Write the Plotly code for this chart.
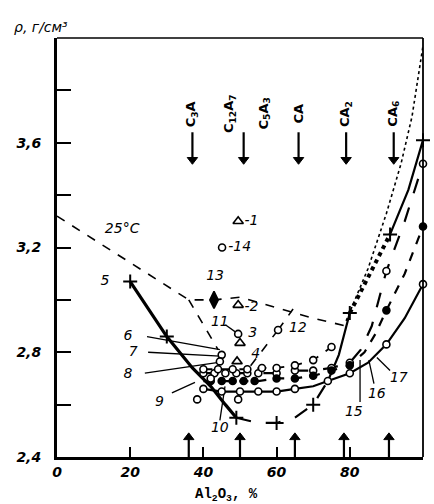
import plotly.graph_objects as go

# ---------------- data ----------------
# curve 5 (+ markers)
c5_solid1_x = [20, 30, 37, 42, 46, 49]
c5_solid1_y = [3.07, 2.86, 2.74, 2.67, 2.60, 2.55]
c5_dash_x = [49, 55, 60, 65, 70, 74]
c5_dash_y = [2.55, 2.53, 2.53, 2.55, 2.60, 2.69]
c5_solid2_x = [74, 77, 80]
c5_solid2_y = [2.69, 2.79, 2.95]
c5_dot_x = [80, 85, 91]
c5_dot_y = [2.95, 3.09, 3.25]
c5_solid3_x = [91, 96, 100]
c5_solid3_y = [3.25, 3.42, 3.61]
c5_plus_x = [20, 30, 49, 60, 70, 80, 91, 100]
c5_plus_y = [3.07, 2.86, 2.55, 2.53, 2.60, 2.95, 3.25, 3.61]

# thin dotted curve
dot_x = [79, 85, 90, 94, 97, 100]
dot_y = [2.92, 3.12, 3.33, 3.52, 3.70, 3.97]

# 25 °C dashed line
t25_x = [0, 36, 43, 50, 60, 70, 79]
t25_y = [3.32, 3.00, 3.00, 3.01, 2.97, 2.93, 2.90]
t25b_x = [36, 44]
t25b_y = [3.00, 2.81]

# curve 15 (long dash, open circles)
c15_x = [40, 43, 46, 49, 52, 55, 60, 65, 70, 75, 80, 83, 86, 90, 95, 100]
c15_y = [2.72, 2.72, 2.72, 2.72, 2.72, 2.72, 2.72, 2.73, 2.73, 2.74, 2.76, 2.81, 2.90, 3.11, 3.30, 3.52]
c15_mx = [40, 43, 46, 49, 52, 55, 60, 65, 70, 75, 80, 90, 100]
c15_my = [2.72, 2.72, 2.72, 2.72, 2.72, 2.72, 2.72, 2.73, 2.73, 2.74, 2.76, 3.11, 3.52]

# curve 16 (dash, filled circles)
c16_x = [40, 43, 46, 49, 52, 55, 60, 65, 70, 75, 80, 84, 87, 90, 95, 100]
c16_y = [2.69, 2.69, 2.69, 2.69, 2.69, 2.69, 2.70, 2.70, 2.71, 2.73, 2.75, 2.80, 2.87, 2.96, 3.10, 3.28]
c16_mx = [42, 45, 48, 51, 54, 60, 65, 70, 75, 80, 90, 100]
c16_my = [2.69, 2.69, 2.69, 2.69, 2.69, 2.70, 2.70, 2.71, 2.73, 2.75, 2.96, 3.28]

# curve 17 (solid, open circles)
c17_x = [40, 45, 50, 55, 60, 65, 70, 74, 80, 85, 90, 95, 100]
c17_y = [2.66, 2.65, 2.65, 2.65, 2.65, 2.66, 2.67, 2.69, 2.72, 2.76, 2.83, 2.93, 3.06]
c17_mx = [40, 45, 50, 55, 60, 65, 74, 80, 90, 100]
c17_my = [2.66, 2.65, 2.65, 2.65, 2.65, 2.66, 2.69, 2.72, 2.83, 3.06]

# upper short-dash curve (open circles)
cu_x = [40, 44, 48, 52, 56, 60, 65, 70, 75]
cu_y = [2.735, 2.735, 2.735, 2.735, 2.74, 2.74, 2.75, 2.77, 2.82]

# single points
p1 = (49.5, 3.30)      # triangle 1
p14 = (45.1, 3.20)     # circle 14
p13 = (42.9, 3.00)     # diamond 13
p2 = (49.5, 2.98)      # triangle 2
p11 = (49.5, 2.87)     # circle 11
p3 = (50.0, 2.835)     # triangle 3
p4 = (49.2, 2.765)     # triangle 4
p12 = (60.4, 2.885)    # circle 12
extra_open_x = [38.3, 49.5, 45.0, 44.5, 42.0]
extra_open_y = [2.62, 2.62, 2.79, 2.765, 2.70]

# labels placed to the right of their point
rlabel_text = ["-1", "-14", "-2"]
rlabel_x = [51.2, 46.8, 51.2]
rlabel_y = [3.30, 3.20, 2.97]

# centred labels
label_text = ["13", "11", "3", "4", "12", "25°C", "5",
              "6", "7", "8", "9", "10", "15", "16", "17"]
label_x = [43.2, 44.5, 53.5, 54.3, 65.8, 17.8, 13.1,
           19.4, 20.8, 19.4, 28.0, 44.5, 81.1, 87.4, 93.4]
label_y = [3.09, 2.915, 2.87, 2.79, 2.89, 3.27, 3.07,
           2.86, 2.80, 2.715, 2.61, 2.51, 2.57, 2.64, 2.70]

# compounds
comp_labels = ["C<sub>3</sub>A", "C<sub>12</sub>A<sub>7</sub>", "C<sub>5</sub>A<sub>3</sub>",
               "CA", "CA<sub>2</sub>", "CA<sub>6</sub>"]
comp_label_x = [37, 47.3, 56.7, 66, 79, 92]
top_arrow_x = [37, 51, 66, 79, 92]
bottom_arrow_x = [36, 50, 65, 78.4, 90.7]

x_tickvals = [0, 20, 40, 60, 80, 100]
x_ticktext = ["0", "20", "40", "60", "80", "100"]
y_tickvals = [2.4, 2.8, 3.2, 3.6]
y_ticktext = ["2,4", "2,8", "3,2", "3,6"]
y_minor_vals = [2.6, 3.0, 3.4, 3.8]

# ---------------- figure ----------------
K = "black"
fig = go.Figure()


def line(x, y, width=2, dash="solid"):
    fig.add_trace(go.Scatter(x=x, y=y, mode="lines", cliponaxis=False,
                             line=dict(color=K, width=width, dash=dash),
                             hoverinfo="skip", showlegend=False))


def pts(x, y, symbol, size=8, lw=1.6, fill="white"):
    fig.add_trace(go.Scatter(x=x, y=y, mode="markers", cliponaxis=False,
                             marker=dict(symbol=symbol, size=size, color=fill,
                                         line=dict(color=K, width=lw)),
                             hoverinfo="skip", showlegend=False))


line(t25_x, t25_y, 1.6, "dash")
line(t25b_x, t25b_y, 1.6, "dash")
line([60.4, 64.5], [2.885, 2.965], 1.6, "dash")
line([60.4, 52.7], [2.885, 2.745], 1.6, "dash")
line(dot_x, dot_y, 1.6, "dot")
line(c5_solid1_x, c5_solid1_y, 3.2)
line(c5_dash_x, c5_dash_y, 2.2, "longdash")
line(c5_solid2_x, c5_solid2_y, 2.2)
line(c5_dot_x, c5_dot_y, 4, "dot")
line(c5_solid3_x, c5_solid3_y, 2.2)
line(c15_x, c15_y, 2.2, "longdash")
line(c16_x, c16_y, 2.2, "dash")
line(c17_x, c17_y, 2.2)
line(cu_x, cu_y, 1.8, "dash")

# leader lines
leaders = [((24.6, 2.86), (44.5, 2.81)), ((24.9, 2.80), (44.5, 2.785)),
           ((24.0, 2.72), (43.7, 2.76)), ((31.4, 2.645), (37.7, 2.685)),
           ((44.5, 2.54), (45.9, 2.67)), ((46.0, 2.905), (49.0, 2.875)),
           ((82.8, 2.61), (82.8, 2.77)), ((86.6, 2.68), (85.2, 2.77)),
           ((91.0, 2.73), (87.4, 2.78))]
for (x0, y0), (x1, y1) in leaders:
    line([x0, x1], [y0, y1], 1.3)

# arrows (shaft lines + triangle heads)
for x in top_arrow_x:
    line([x, x], [3.64, 3.54], 2.2)
for x in bottom_arrow_x:
    line([x, x], [2.40, 2.47], 2.2)

pts(c15_mx, c15_my, "circle", 7)
pts(c16_mx, c16_my, "circle", 7, fill=K)
pts(c17_mx, c17_my, "circle", 7)
pts(cu_x, cu_y, "circle", 7)
pts(extra_open_x, extra_open_y, "circle", 7)
pts(c5_plus_x, c5_plus_y, "cross-thin", 10, lw=2)
pts([p1[0], p2[0], p3[0], p4[0]], [p1[1], p2[1], p3[1], p4[1]], "triangle-up", 9)
pts([p14[0], p11[0], p12[0]], [p14[1], p11[1], p12[1]], "circle", 7)
pts([p13[0]], [p13[1]], "diamond-tall", 12, fill=K)
pts(top_arrow_x, [3.535] * len(top_arrow_x), "triangle-down", 9, lw=1, fill=K)
pts(bottom_arrow_x, [2.475] * len(bottom_arrow_x), "triangle-up", 9, lw=1, fill=K)

lab_font = dict(family="DejaVu Sans", size=14, color=K, style="italic", weight="normal")
fig.add_trace(go.Scatter(x=label_x, y=label_y, text=label_text, mode="text",
                         textposition="middle center", cliponaxis=False,
                         textfont=lab_font, hoverinfo="skip", showlegend=False))
fig.add_trace(go.Scatter(x=rlabel_x, y=rlabel_y, text=rlabel_text, mode="text",
                         textposition="middle right", cliponaxis=False,
                         textfont=lab_font, hoverinfo="skip", showlegend=False))

# compound labels
comp_font = dict(family="DejaVu Sans", size=13, color=K, weight="bold")
for t, x in zip(comp_labels, comp_label_x):
    fig.add_annotation(x=x, y=3.71, text=t, textangle=-90, showarrow=False,
                       font=comp_font)

# frame (top/right thin)
fig.add_shape(type="line", xref="paper", yref="paper", x0=0, x1=1, y0=1, y1=1,
              line=dict(color=K, width=1.5))
fig.add_shape(type="line", xref="paper", yref="paper", x0=1, x1=1, y0=0, y1=1,
              line=dict(color=K, width=1.8))

tick_font = dict(family="DejaVu Sans", size=14, color=K, style="italic", weight="bold")
fig.update_xaxes(range=[0, 100], tickvals=x_tickvals, ticktext=x_ticktext,
                 ticks="inside", ticklen=10, tickwidth=1.5, tickcolor=K,
                 showline=True, linewidth=2.5, linecolor=K, showgrid=False,
                 zeroline=False, tickfont=tick_font, automargin=False)
fig.update_yaxes(range=[2.4, 4.0], tickvals=y_tickvals, ticktext=y_ticktext,
                 ticks="inside", ticklen=14, tickwidth=1.5, tickcolor=K,
                 minor=dict(tickvals=y_minor_vals, ticks="inside", ticklen=14,
                            tickwidth=1.5, tickcolor=K, showgrid=False),
                 showline=True, linewidth=3, linecolor=K, showgrid=False,
                 zeroline=False, tickfont=tick_font, ticklabelstandoff=10,
                 automargin=False)

fig.add_annotation(xref="paper", yref="paper", x=-0.123, y=1.026, xanchor="left",
                   yanchor="middle", showarrow=False, text="ρ, г/см³",
                   font=dict(family="DejaVu Sans", size=14, color=K, style="italic",
                             weight="normal"))
fig.add_annotation(xref="paper", yref="paper", x=0.464, y=-0.091, xanchor="center",
                   yanchor="middle", showarrow=False,
                   text="Al<sub>2</sub>O<sub>3</sub>, %",
                   font=dict(family="Liberation Mono", size=14, color=K, weight="bold"))

fig.update_layout(width=434, height=504, margin=dict(l=57, r=11, t=38, b=47),
                  plot_bgcolor="white", paper_bgcolor="white", showlegend=False)

fig.write_html("out.html", config={"displayModeBar": False},
               post_script="document.body.style.margin='0';document.body.style.padding='0';")
